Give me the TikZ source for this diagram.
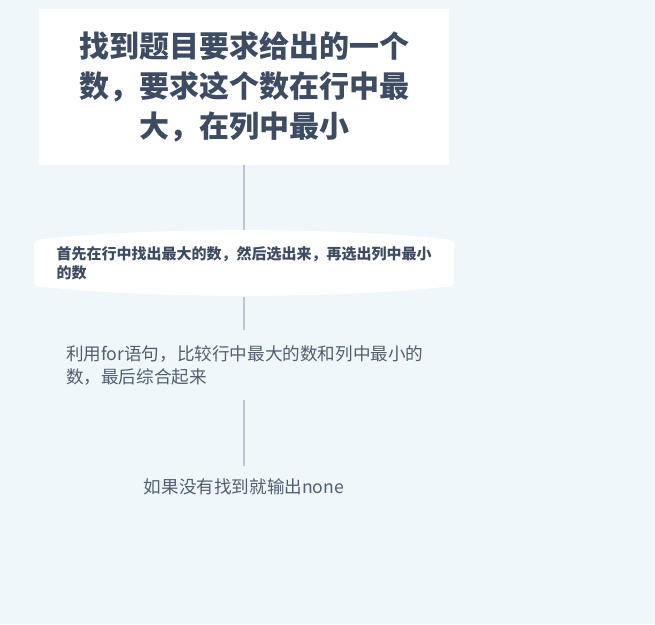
\documentclass[tikz,border=0pt]{standalone}
\usepackage{fontspec}
\setmainfont{Noto Sans CJK SC}
\usetikzlibrary{positioning}
\definecolor{bgblue}{RGB}{239,247,250}
\definecolor{inkdark}{RGB}{62,76,99}
\definecolor{inkgrey}{RGB}{82,95,115}
\definecolor{linkgrey}{RGB}{188,198,210}
\tikzset{
  topic/.style={fill=white, text=inkdark, font=\bfseries\fontsize{30}{40}\selectfont,
    align=center, minimum width=410, minimum height=156, inner sep=0},
  subtopic/.style={text=inkdark, font=\bfseries\fontsize{15}{19}\selectfont,
    align=left, text width=375, minimum height=67, inner sep=0},
  plain/.style={text=inkgrey, font=\fontsize{17.6}{23}\selectfont, align=left, inner sep=0},
  link/.style={draw=linkgrey, line width=1.2pt}
}
\begin{document}
\begin{tikzpicture}[x=1pt,y=-1pt]

% canvas
\fill[bgblue] (0,0) rectangle (655,624);

\node[topic] (goal) at (244,87) {找到题目要求给出的一个\\数，要求这个数在行中最\\大，在列中最小};

% bulging box behind the first step
\fill[white] (34,246) -- (34,280) .. controls (34,285) .. (40,286.5)
  .. controls (150,299) and (338,299) .. (448,286.5)
  .. controls (454,285) .. (454,280) -- (454,246)
  .. controls (454,241) .. (448,239.5)
  .. controls (338,227) and (150,227) .. (40,239.5)
  .. controls (34,241) .. (34,246) -- cycle;
\node[subtopic] (find) at (244,263.5) {首先在行中找出最大的数，然后选出来，再选出列中最小\\的数};

\node[plain, text width=356, minimum height=70] (loop) at (244,365) {利用for语句，比较行中最大的数和列中最小的\\数，最后综合起来};

\node[plain, minimum height=42] (none) at (244,487) {如果没有找到就输出none};

\draw[link] (goal) -- (find);
\draw[link] (find) -- (loop);
\draw[link] (loop) -- (none);

\end{tikzpicture}
\end{document}
